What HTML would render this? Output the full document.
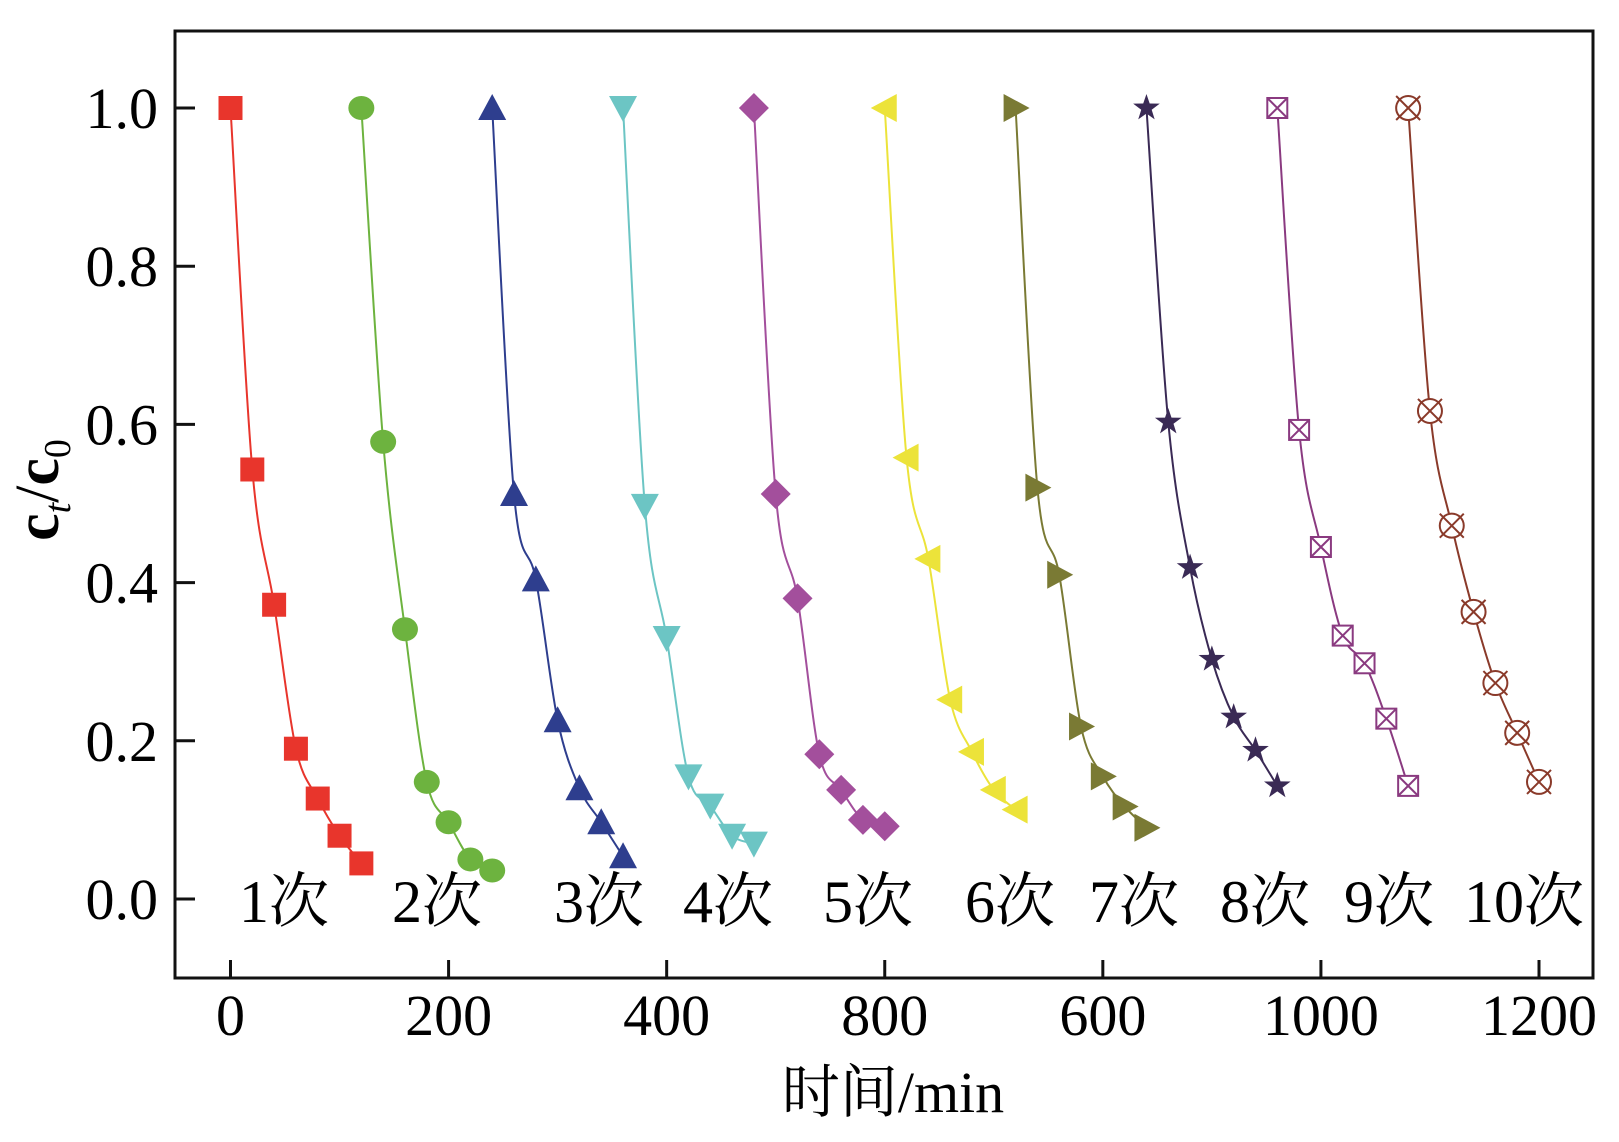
<!DOCTYPE html>
<html><head><meta charset="utf-8"><style>
html,body{margin:0;padding:0;background:#fff;}
svg text{font-family:"Liberation Serif","Noto Serif CJK SC",serif;}
</style></head><body>
<svg id="chart" width="1619" height="1137" xmlns="http://www.w3.org/2000/svg">
<g id="plot"></g>
</svg>
<script>
const cycleStarts=[0,120,240,360,480,600,720,840,960,1080];
const timeOffsets=[0,20,40,60,80,100,120];
const s1=[1.0,0.543,0.372,0.19,0.127,0.08,0.045];
const s2=[1.0,0.578,0.341,0.148,0.097,0.05,0.036];
const s3=[1.0,0.512,0.404,0.226,0.14,0.097,0.054];
const s4=[1.0,0.497,0.33,0.155,0.118,0.08,0.07];
const s5=[1.0,0.512,0.38,0.183,0.138,0.1,0.092];
const s6=[1.0,0.558,0.43,0.252,0.186,0.138,0.113];
const s7=[1.0,0.52,0.41,0.218,0.155,0.117,0.09];
const s8=[1.0,0.603,0.419,0.303,0.23,0.188,0.143];
const s9=[1.0,0.593,0.445,0.333,0.298,0.228,0.143];
const s10=[1.0,0.617,0.472,0.363,0.273,0.21,0.148];
const cycleLabels=["1次","2次","3次","4次","5次","6次","7次","8次","9次","10次"];
const xTickValues=[0,200,400,600,800,1000,1200];
const xTickLabels=["0","200","400","800","600","1000","1200"];
const yTickValues=[0,0.2,0.4,0.6,0.8,1.0];
const yTickLabels=["0.0","0.2","0.4","0.6","0.8","1.0"];

const series=[s1,s2,s3,s4,s5,s6,s7,s8,s9,s10];
const colors=["#e8352c","#6db33f","#2e3e8e","#6cc5c4","#a34f9c","#ece33a","#7a7a34","#3a2a55","#8a3a80","#8a3a2a"];
const shapes=["square","circle","up","down","diamond","left","right","star","sqx","cx"];
const labelX=[284,437,599,728,868,1010,1134,1265,1389,1524];
const L=175,R=1593,T=31,B=978;
const X=v=>230.5+v*(1539-230.5)/1200;
const Y=v=>899-v*(899-108);
const NS="http://www.w3.org/2000/svg";
const g=document.getElementById('plot');
function el(t,a,p){const e=document.createElementNS(NS,t);for(const k in a)e.setAttribute(k,a[k]);(p||g).appendChild(e);return e;}

const frame=el('rect',{x:L,y:T,width:R-L,height:B-T,fill:'none',stroke:'#111','stroke-width':3});



xTickValues.forEach((v,i)=>{
  const t=el('line',{x1:X(v),x2:X(v),y1:B,y2:B-18,stroke:'#111','stroke-width':3});
  
  
  const tx=el('text',{x:X(v),y:1035,'font-size':58,'text-anchor':'middle'});
  tx.textContent=xTickLabels[i];
  
  
});
yTickValues.forEach((v,i)=>{
  const t=el('line',{x1:L,x2:L+20,y1:Y(v),y2:Y(v),stroke:'#111','stroke-width':3});
  
  
  const tx=el('text',{x:158,y:Y(v)+20,'font-size':58,'text-anchor':'end'});
  tx.textContent=yTickLabels[i];
  
  
});
const xt=el('text',{x:893,y:1112,'font-size':58,'text-anchor':'middle'});
xt.textContent='时间/min';


const yt=el('text',{transform:'translate(58,490) rotate(-90)','font-size':62,'text-anchor':'middle','font-weight':'bold'});
yt.innerHTML='c<tspan font-size="38" dy="12" font-style="italic" font-weight="normal">t</tspan><tspan dy="-12" font-weight="normal">/</tspan>c<tspan font-size="38" dy="12" font-weight="normal">0</tspan>';



function spline(pts){
  let d=`M${pts[0][0]},${pts[0][1]}`;
  for(let i=0;i<pts.length-1;i++){
    const p0=pts[Math.max(0,i-1)],p1=pts[i],p2=pts[i+1],p3=pts[Math.min(pts.length-1,i+2)];
    const c1=[p1[0]+(p2[0]-p0[0])/6,p1[1]+(p2[1]-p0[1])/6];
    const c2=[p2[0]-(p3[0]-p1[0])/6,p2[1]-(p3[1]-p1[1])/6];
    d+=` C${c1[0]},${c1[1]} ${c2[0]},${c2[1]} ${p2[0]},${p2[1]}`;
  }
  return d;
}
function marker(shape,x,y,c,parent){
  const r=12;let m;
  const poly=pts=>el('polygon',{points:pts.map(p=>p.join(',')).join(' '),fill:c},parent);
  switch(shape){
    case 'square':m=el('rect',{x:x-r,y:y-r,width:2*r,height:2*r,fill:c},parent);break;
    case 'circle':m=el('ellipse',{cx:x,cy:y,rx:r+1,ry:r,fill:c},parent);break;
    case 'up':m=poly([[x,y-r-2],[x+r+2,y+r],[x-r-2,y+r]]);break;
    case 'down':m=poly([[x,y+r+2],[x+r+2,y-r],[x-r-2,y-r]]);break;
    case 'diamond':m=poly([[x,y-r-3],[x+r+3,y],[x,y+r+3],[x-r-3,y]]);break;
    case 'left':m=poly([[x-r-2,y],[x+r,y-r-2],[x+r,y+r+2]]);break;
    case 'right':m=poly([[x+r+2,y],[x-r,y-r-2],[x-r,y+r+2]]);break;
    case 'star':{const p=[];for(let k=0;k<10;k++){const a=-Math.PI/2+k*Math.PI/5,rr=k%2?5.5:14;p.push([x+rr*Math.cos(a),y+rr*Math.sin(a)]);}m=poly(p);break;}
    case 'sqx':m=el('g',{},parent);el('rect',{x:x-10,y:y-10,width:20,height:20,fill:'#fff',stroke:c,'stroke-width':2},m);el('path',{d:`M${x-10},${y-10}L${x+10},${y+10}M${x+10},${y-10}L${x-10},${y+10}`,stroke:c,'stroke-width':2},m);break;
    case 'cx':m=el('g',{},parent);el('circle',{cx:x,cy:y,r:12,fill:'#fff',stroke:c,'stroke-width':2},m);el('path',{d:`M${x-12},${y-12}L${x+12},${y+12}M${x+12},${y-12}L${x-12},${y+12}`,stroke:c,'stroke-width':2},m);break;
  }
  return m;
}
series.forEach((s,i)=>{
  const sg=el('g',{});
  
  
  const pts=s.map((v,j)=>[X(cycleStarts[i]+timeOffsets[j]),Y(v)]);
  const ln=el('path',{d:spline(pts),fill:'none',stroke:colors[i],'stroke-width':2},sg);
  
  
  pts.forEach(p=>{
    const m=marker(shapes[i],p[0],p[1],colors[i],sg);
    
    
  });
  const lb=el('text',{x:labelX[i],y:922,'font-size':60,'text-anchor':'middle'});
  lb.textContent=cycleLabels[i];
  
  
});
</script>
</body></html>
